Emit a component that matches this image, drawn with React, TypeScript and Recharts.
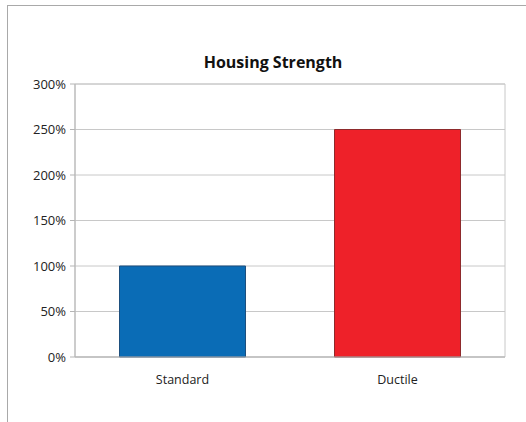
import React from "react";
import { BarChart, Bar, Cell, XAxis, YAxis, CartesianGrid, ReferenceArea } from "recharts";

const categories = ["Standard", "Ductile"];
const strength = [100, 250];
const yTicks = [0, 50, 100, 150, 200, 250, 300];

const FILLS = ["#0a6cb6", "#ee2129"];
const STROKES = ["#1d4f7e", "#8e2a2c"];

const data = categories.map((name, i) => ({ name, value: strength[i] }));

const font = "'Open Sans', 'DejaVu Sans', sans-serif";

export default function App() {
  return (
    <div style={{ position: "fixed", left: 0, top: 0, width: 526, height: 422, background: "#fff", fontFamily: font }}>
      <div
        style={{
          position: "absolute",
          left: 7,
          top: 5,
          width: 519,
          height: 417,
          borderTop: "1px solid #a9a9a9",
          borderLeft: "1px solid #a9a9a9",
        }}
      />
      <div
        style={{
          position: "absolute",
          left: 0,
          width: 546,
          top: 51,
          textAlign: "center",
          fontSize: 16,
          fontWeight: 700,
          color: "#111",
        }}
      >
        Housing Strength
      </div>
      <div style={{ position: "absolute", left: 0, top: 0 }}>
        <BarChart
          width={526}
          height={422}
          data={data}
          margin={{ top: 84, right: 21, left: 0, bottom: 35 }}
          barCategoryGap="20.7%"
        >
          <CartesianGrid vertical={false} stroke="#c8c8c8" />
          <ReferenceArea y1={0} y2={300} fill="none" stroke="#c8c8c8" ifOverflow="visible" />
          <XAxis
            dataKey="name"
            height={30}
            axisLine={{ stroke: "#b5b5b5" }}
            tickLine={false}
            tick={{ fill: "#222", fontSize: 12.5, fontFamily: font }}
            tickMargin={12}
          />
          <YAxis
            width={75}
            domain={[0, 300]}
            ticks={yTicks}
            tickFormatter={(v) => `${v}%`}
            axisLine={{ stroke: "#b5b5b5" }}
            tickLine={{ stroke: "#b5b5b5" }}
            tickSize={5}
            tick={{ fill: "#222", fontSize: 13, fontFamily: font }}
            tickMargin={4}
          />
          <Bar dataKey="value" isAnimationActive={false}>
            {data.map((_, i) => (
              <Cell key={i} fill={FILLS[i]} stroke={STROKES[i]} strokeWidth={1} />
            ))}
          </Bar>
        </BarChart>
      </div>
    </div>
  );
}
